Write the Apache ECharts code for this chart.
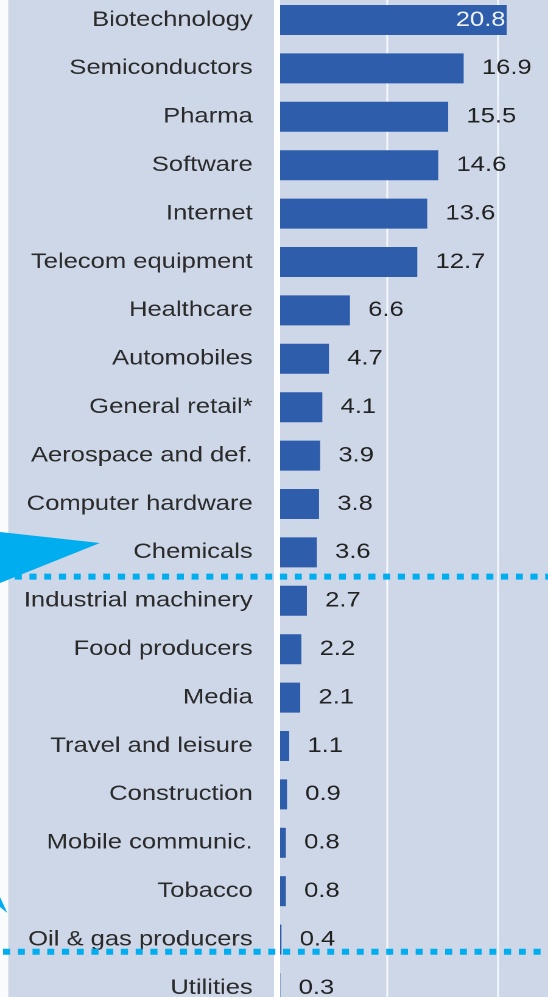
<!DOCTYPE html>
<html>
<head>
<meta charset="utf-8">
<script src="https://cdn.jsdelivr.net/npm/echarts@6/dist/echarts.min.js"></script>
<style>
html,body{margin:0;padding:0;background:#fff;overflow:hidden;width:548px;height:997px;}
#c{width:450px;height:997px;transform:scaleX(1.21778);transform-origin:0 0;}
</style>
</head>
<body>
<div id="c"></div>
<script>
const categories = ['Biotechnology','Semiconductors','Pharma','Software','Internet','Telecom equipment','Healthcare','Automobiles','General retail*','Aerospace and def.','Computer hardware','Chemicals','Industrial machinery','Food producers','Media','Travel and leisure','Construction','Mobile communic.','Tobacco','Oil & gas producers','Utilities'];
const values = [20.8,16.9,15.5,14.6,13.6,12.7,6.6,4.7,4.1,3.9,3.8,3.6,2.7,2.2,2.1,1.1,0.9,0.8,0.8,0.4,0.3];
const axisTicks = [0,10,20,30];

const chart = echarts.init(document.getElementById('c'), null, {devicePixelRatio: 2});
const FONT = "'Liberation Sans', Arial, sans-serif";

chart.setOption({
  backgroundColor: '#cdd7e8',
  animation: false,
  grid: {left: 227.5, top: -4.2, width: 272, height: 1016.4, containLabel: false, outerBoundsMode: 'none'},
  xAxis: {
    type: 'value', min: axisTicks[0], max: axisTicks[axisTicks.length-1], interval: axisTicks[1]-axisTicks[0],
    axisLabel: {show: false}, axisLine: {show: false}, axisTick: {show: false},
    splitLine: {show: true, lineStyle: {color: '#f4f7fb', width: 1.6}}
  },
  yAxis: {
    type: 'category', data: categories, inverse: true, z: 5,
    axisLine: {show: true, lineStyle: {color: '#ffffff', width: 5}},
    axisTick: {show: false},
    axisLabel: {color: '#2a2a2a', fontSize: 21, fontFamily: FONT, margin: 20, padding: [4, 0, 0, 0]}
  },
  series: [{
    type: 'bar',
    barWidth: 30,
    itemStyle: {color: '#2e5dab'},
    label: {show: true, position: 'right', distance: 15, color: '#222', fontSize: 21, fontFamily: FONT, padding: [4, 0, 0, 0]},
    data: values.map((v, i) => i === 0
      ? {value: v, label: {position: 'insideRight', distance: 1, color: '#eef3fb'}}
      : v)
  }]
});

const yOf = c => chart.convertToPixel({yAxisIndex: 0}, c);
const band = yOf(categories[1]) - yOf(categories[0]);
const y1 = (yOf('Chemicals') + yOf('Industrial machinery')) / 2;
const y2 = yOf('Oil & gas producers') + band * 0.25;
const dot = {stroke: '#00aeef', lineWidth: 6, lineDash: [5.8, 6.3], lineCap: 'butt'};

chart.setOption({
  graphic: [
    {type: 'rect', shape: {x: 0, y: 0, width: 6.8, height: 997}, style: {fill: '#fafbfd'}, z: 1},
    {type: 'line', shape: {x1: 0, y1: y1, x2: 450, y2: y1}, style: dot, z: 10},
    {type: 'line', shape: {x1: 2.5, y1: y2, x2: 450, y2: y2}, style: dot, z: 10},
    {type: 'polygon', shape: {points: [[0, 532], [82, 543], [0, 583]]}, style: {fill: '#00aeef'}, z: 11},
    {type: 'polygon', shape: {points: [[0, 897], [6, 913], [0, 907]]}, style: {fill: '#00aeef'}, z: 11}
  ]
});
</script>
</body>
</html>
